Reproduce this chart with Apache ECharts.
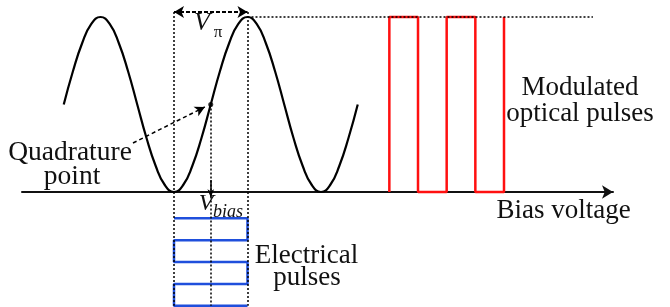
<!DOCTYPE html>
<html>
<head>
<meta charset="utf-8">
<script src="https://cdn.jsdelivr.net/npm/echarts@6/dist/echarts.min.js"></script>
<style>
  html, body { margin: 0; padding: 0; background: #fff; }
  #chart { width: 670px; height: 307px; }
</style>
</head>
<body>
<div id="chart"></div>
<script>
// Bias in units of V_pi (trough of the transfer curve at 0), transmission normalised to 1
const biasV = [-1.5, -1.375, -1.25, -1.125, -1, -0.875, -0.75, -0.625, -0.5, -0.375, -0.25, -0.125,
    0, 0.125, 0.25, 0.375, 0.5, 0.625, 0.75, 0.875, 1, 1.125, 1.25, 1.375, 1.5, 1.625, 1.75, 1.875,
    2, 2.125, 2.25, 2.375, 2.5];
const transmission = [0.5, 0.69, 0.85, 0.96, 1, 0.96, 0.85, 0.69, 0.5, 0.31, 0.15, 0.04,
    0, 0.04, 0.15, 0.31, 0.5, 0.69, 0.85, 0.96, 1, 0.96, 0.85, 0.69, 0.5, 0.31, 0.15, 0.04,
    0, 0.04, 0.15, 0.31, 0.5];
const quadraturePoint = [0.5, 0.5];

// Modulated optical pulses (right side)
const opticalBias = [2.93, 2.93, 3.32, 3.32, 3.71, 3.71, 4.1, 4.1, 4.49, 4.49];
const opticalLevel = [0, 1, 1, 0, 0, 1, 1, 0, 0, 1];

// Electrical drive pulses (below the axis, time runs downward)
const electricalBias = [0, 1, 1, 0, 0, 1, 1, 0, 0, 1];
const electricalTime = [-0.15, -0.15, -0.275, -0.275, -0.4, -0.4, -0.525, -0.525, -0.65, -0.65];

const zip = (a, b) => a.map((v, i) => [v, b[i]]);

const chart = echarts.init(document.getElementById('chart'));
const serif = 'Liberation Serif, Times New Roman, serif';
const dotted = { color: '#000', width: 1.5, type: [2, 2] };

function txt(str, x, y, size, italic) {
    return {
        type: 'text', x: x, y: y, silent: true,
        style: {
            text: str, fill: '#111', fontSize: size, fontFamily: serif,
            fontStyle: italic ? 'italic' : 'normal',
            align: 'center', verticalAlign: 'middle',
            textAlign: 'center', textVerticalAlign: 'middle'
        }
    };
}

const option = {
    animation: false,
    grid: { left: 22, right: 57, top: 0, bottom: 0 },
    xAxis: {
        type: 'value', min: -2.068, max: 5.973,
        axisLine: { show: true, onZero: true, lineStyle: { color: '#111', width: 2 }, symbol: ['none', 'arrow'], symbolSize: [10, 11] },
        axisTick: { show: false }, axisLabel: { show: false }, splitLine: { show: false }
    },
    yAxis: { type: 'value', min: -0.657, max: 1.097, show: false },
    series: [
        {
            name: 'Transfer curve', type: 'line', smooth: true, clip: false,
            data: zip(biasV, transmission), showSymbol: false,
            lineStyle: { color: '#000', width: 2.2 },
            markLine: {
                silent: true, symbol: ['none', 'none'], label: { show: false },
                data: [
                    [{ coord: [0, 1.029], lineStyle: dotted }, { coord: [0, -0.65] }],
                    [{ coord: [quadraturePoint[0], quadraturePoint[1]], lineStyle: dotted }, { coord: [quadraturePoint[0], -0.65] }],
                    [{ coord: [1, 1.029], lineStyle: dotted }, { coord: [1, -0.65] }],
                    [{ coord: [1, 1], lineStyle: dotted }, { coord: [5.7, 1] }],
                    [{ coord: [0, 1.029], symbol: 'arrow', symbolSize: [9, 10], lineStyle: { color: '#000', width: 2, type: [4, 2] } },
                     { coord: [1, 1.029], symbol: 'arrow', symbolSize: [9, 10] }],
                    [{ coord: [-0.558, 0.28], lineStyle: { color: '#000', width: 1.5, type: [4, 3] } },
                     { coord: [0.42, 0.486], symbol: 'arrow', symbolSize: [8, 10] }],
                    [{ coord: [0.5, 0.068], lineStyle: { color: '#000', width: 1.5, type: 'solid' } },
                     { coord: [0.5, -0.03], symbol: 'arrow', symbolSize: [5, 8] }]
                ]
            }
        },
        {
            name: 'Quadrature point', type: 'scatter', data: [quadraturePoint],
            symbolSize: 5, itemStyle: { color: '#000' }, silent: true
        },
        {
            name: 'Modulated optical pulses', type: 'line', clip: false,
            data: zip(opticalBias, opticalLevel), showSymbol: false,
            lineStyle: { color: '#ff1010', width: 2.5 }
        },
        {
            name: 'Electrical pulses', type: 'line', clip: false,
            data: zip(electricalBias, electricalTime), showSymbol: false,
            lineStyle: { color: '#1f4fdc', width: 2.5 }
        }
    ],
    graphic: [
        txt('Quadrature', 70, 153, 27.5),
        txt('point', 72, 177, 27.5),
        txt('Modulated', 580, 88, 27),
        txt('optical pulses', 580, 114, 27),
        txt('Bias voltage', 563.5, 211, 27),
        txt('Electrical', 306.5, 256, 27),
        txt('pulses', 307, 278, 27),
        txt('V', 202, 23.5, 26, true),
        txt('\u03c0', 218, 32.6, 17),
        txt('V', 206, 204, 24, true),
        txt('bias', 228, 212.3, 18, true)
    ]
};
chart.setOption(option);
window.addEventListener('resize', () => chart.resize());
</script>
</body>
</html>
